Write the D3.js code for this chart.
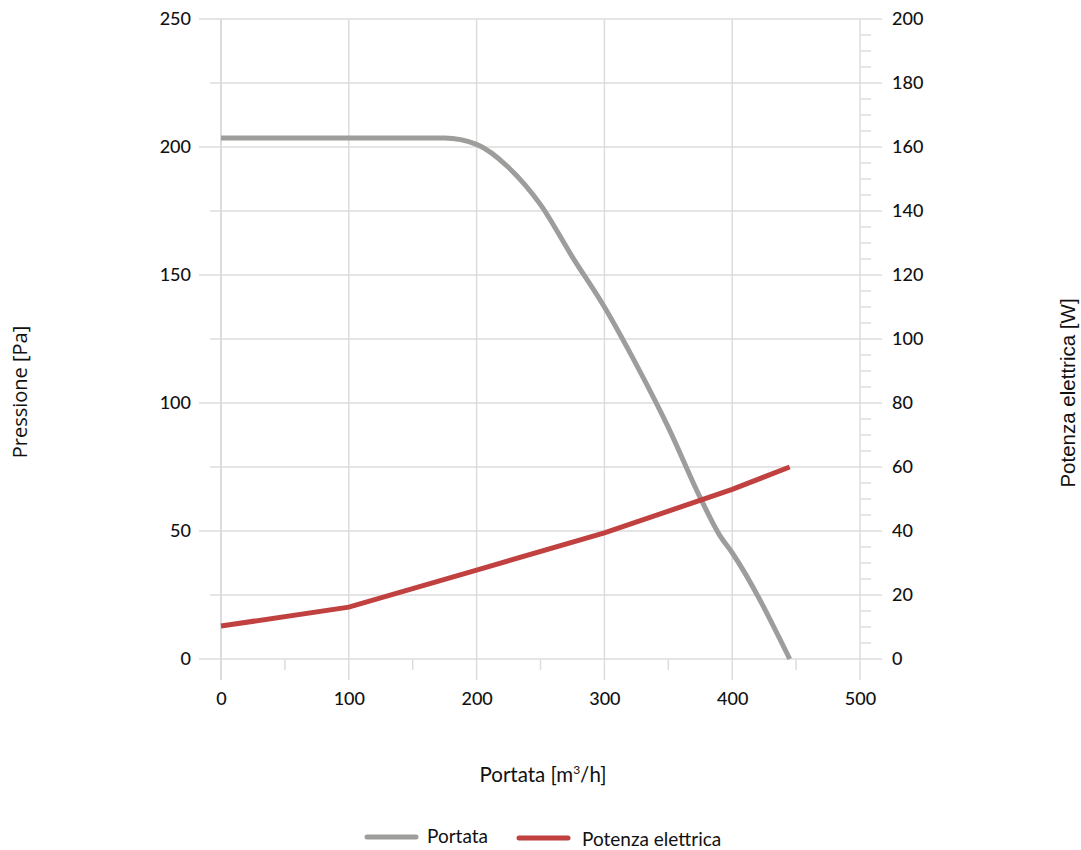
<!DOCTYPE html>
<html>
<head>
<meta charset="utf-8">
<script src="https://cdn.jsdelivr.net/npm/d3@7"></script>
<style>
  body { margin: 0; background: #fff; }
  .tick text { font-family: Lato, "Noto Sans", sans-serif; font-size: 18px; font-weight: 500; fill: #111; }
</style>
</head>
<body>
<svg id="chart" width="1081" height="850"></svg>
<script>
// portata [m3/h] vs pressione [Pa]
var flowP = [0, 100, 175, 200, 225, 250, 275, 300, 325, 350, 375, 390, 400, 445];
var pressure = [203.5, 203.5, 203.5, 201, 192, 177.5, 157, 137.5, 115, 90.5, 63, 48.5, 41.5, 0];

// portata vs potenza elettrica [W]
var flowW = [0, 100, 200, 300, 400, 445];
var power = [10.3, 16.2, 27.8, 39.4, 53, 60];

var xTicks = [0, 100, 200, 300, 400, 500];
var yLeftTicks = [0, 50, 100, 150, 200, 250];
var yRightTicks = [0, 20, 40, 60, 80, 100, 120, 140, 160, 180, 200];
var seriesNames = ['Portata', 'Potenza elettrica'];
var seriesColors = ['#9d9d9b', '#c0413f'];

var svg = d3.select('#chart');
var pLeft = 221, pRight = 860, pTop = 19, pBottom = 659;
var gridColor = '#dcdcdc';

var x = d3.scaleLinear().domain([0, 500]).range([pLeft, pRight]);
var yL = d3.scaleLinear().domain([0, 250]).range([pBottom, pTop]);
var yR = d3.scaleLinear().domain([0, 200]).range([pBottom, pTop]);

var grid = svg.append('g');

// horizontal grid every 25 Pa
grid.selectAll('line.hg')
  .data(d3.range(0, 251, 25))
  .enter().append('line')
    .attr('x1', function(d) { return d % 50 == 0 ? pLeft - 22 : pLeft - 11; })
    .attr('x2', pRight + 22)
    .attr('y1', function(d) { return yL(d); })
    .attr('y2', function(d) { return yL(d); })
    .style('stroke', gridColor)
    .style('stroke-width', 1.5)
;

// right minor ticks every 5 W
grid.selectAll('line.rm')
  .data(d3.range(0, 201, 5).filter(function(d) { return d % 20 != 0; }))
  .enter().append('line')
    .attr('x1', pRight)
    .attr('x2', pRight + 11)
    .attr('y1', function(d) { return yR(d); })
    .attr('y2', function(d) { return yR(d); })
    .style('stroke', gridColor)
    .style('stroke-width', 1.5)
;

// vertical grid
grid.selectAll('line.vg')
  .data(xTicks)
  .enter().append('line')
    .attr('x1', function(d) { return x(d); })
    .attr('x2', function(d) { return x(d); })
    .attr('y1', pTop)
    .attr('y2', pBottom + 21)
    .style('stroke', gridColor)
    .style('stroke-width', function(d) { return d == 0 ? 2 : 1.5; })
;

// x minor ticks
grid.selectAll('line.xm')
  .data([50, 150, 250, 350, 450])
  .enter().append('line')
    .attr('x1', function(d) { return x(d); })
    .attr('x2', function(d) { return x(d); })
    .attr('y1', pBottom)
    .attr('y2', pBottom + 11)
    .style('stroke', gridColor)
    .style('stroke-width', 1.5)
;

// axes (labels only)
var axL = svg.append('g')
  .attr('transform', 'translate(' + (pLeft - 30) + ',0)')
  .call(d3.axisLeft(yL).tickValues(yLeftTicks).tickSize(0).tickPadding(0));
var axR = svg.append('g')
  .attr('transform', 'translate(' + (pRight + 32) + ',0)')
  .call(d3.axisRight(yR).tickValues(yRightTicks).tickSize(0).tickPadding(0));
var axX = svg.append('g')
  .attr('transform', 'translate(0,' + (pBottom + 33) + ')')
  .call(d3.axisBottom(x).tickValues(xTicks).tickSize(0).tickPadding(0));
[axL, axR, axX].forEach(function(a) {
  a.select('.domain').remove();
  a.attr('font-family', null).attr('font-size', null);
});
axX.selectAll('text').attr('dy', '0.71em');

// lines
var lineP = d3.line()
  .x(function(d, i) { return x(flowP[i]); })
  .y(function(d) { return yL(d); })
  .curve(d3.curveMonotoneX);
var lineW = d3.line()
  .x(function(d, i) { return x(flowW[i]); })
  .y(function(d) { return yR(d); });

svg.append('path')
  .datum(pressure)
  .attr('d', lineP)
  .style('fill', 'none')
  .style('stroke', seriesColors[0])
  .style('stroke-width', 5)
;
svg.append('path')
  .datum(power)
  .attr('d', lineW)
  .style('fill', 'none')
  .style('stroke', seriesColors[1])
  .style('stroke-width', 5)
;

// axis titles
svg.append('text')
  .attr('x', 543).attr('y', 782)
  .attr('text-anchor', 'middle')
  .style('font-family', 'Lato, sans-serif')
  .style('font-size', '20.5px')
  .style('fill', '#111')
  .html('Portata [m<tspan dy="-8" font-size="12px">3</tspan><tspan dy="8">/h]</tspan>')
;
svg.append('text')
  .attr('transform', 'translate(27,392) rotate(-90)')
  .attr('text-anchor', 'middle')
  .style('font-family', '"Open Sans", sans-serif')
  .style('font-size', '20px')
  .style('fill', '#111')
  .text('Pressione [Pa]')
;
svg.append('text')
  .attr('transform', 'translate(1075,393) rotate(-90)')
  .attr('text-anchor', 'middle')
  .style('font-family', '"Liberation Sans", Arial, sans-serif')
  .style('font-size', '20.5px')
  .style('fill', '#111')
  .text('Potenza elettrica [W]')
;

// legend
var legend = svg.append('g');
var legX = [367, 519];
var legY = [837, 838];
seriesNames.forEach(function(name, i) {
  legend.append('line')
    .attr('x1', legX[i]).attr('x2', legX[i] + 49)
    .attr('y1', legY[i]).attr('y2', legY[i])
    .style('stroke', seriesColors[i])
    .style('stroke-width', 5)
    .style('stroke-linecap', 'round')
  ;
  legend.append('text')
    .attr('x', legX[i] + 60 + (i ? 3 : 0))
    .attr('y', legY[i] + 6 + (i ? 2 : 0))
    .style('font-family', 'Lato, sans-serif')
    .style('font-size', '19px')
    .style('fill', '#111')
    .text(name)
  ;
});
</script>
</body>
</html>
